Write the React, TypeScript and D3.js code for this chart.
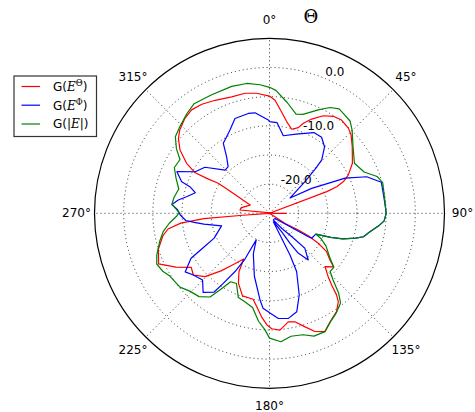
import React from 'react';
import * as d3 from 'd3';

// antenna gain in dB, theta in degrees (0 = up, clockwise)
const thetaRed = [0, 2.8, 6.8, 10.6, 14.8, 18.6, 20.6, 24.1, 28.9, 33.3, 37.7, 42.8, 46.1, 51.2, 58.9, 64.1, 66.8, 68.4, 69.3, 80, 90, 100, 122.8, 120.1, 120.0, 121.6, 123.9, 127.7, 129.9, 133.9, 137.2, 139.1, 140.6, 142.1, 145.7, 150.8, 154.9, 159.0, 162.6, 166.8, 170.2, 174.9, 178.9, 181.4, 184.4, 187.2, 190.8, 198.1, 204.0, 207.6, 209.5, 215.6, 220.1, 225.5, 231.0, 235.4, 240.1, 245.5, 252.2, 258.0, 261.2, 263.7, 265.3, 265.8, 268, 276.4, 281.4, 293.1, 299.5, 300.4, 299.1, 298.6, 301.1, 305.3, 309.4, 312.9, 318.3, 323.0, 328.2, 334.3, 342.0, 348.5, 353.8, 360];
const gainRed = [-4.9, -5.6, -7.5, -9.0, -10.1, -9.5, -8.5, -7.3, -5.9, -5.1, -4.8, -5.1, -5.6, -6.8, -8.4, -10.0, -11.2, -12.6, -14.5, -25.0, -22.1, -25.0, -21.8, -19.3, -17.3, -15.2, -13.2, -11.9, -10.7, -11.8, -10.2, -8.7, -6.9, -5.8, -4.6, -3.7, -2.6, -3.3, -4.6, -5.9, -6.1, -4.9, -5.2, -5.9, -7.2, -8.6, -10.0, -10.1, -11.9, -13.7, -16.0, -14.1, -12.1, -9.5, -8.2, -8.7, -6.5, -4.1, -5.0, -6.3, -7.4, -9.7, -13.7, -20.4, -25.6, -19.9, -20.1, -21.4, -16.9, -14.8, -12.7, -10.5, -8.4, -6.2, -4.8, -4.0, -3.2, -2.8, -3.0, -3.5, -4.0, -4.0, -4.3, -4.9];

const thetaBlue = [0, 4.7, 10.1, 18.5, 28.8, 34.4, 39.6, 44.4, 45.8, 48.3, 53.3, 59.4, 65.1, 69.4, 74.5, 81.7, 86.7, 90, 93.8, 96.7, 100.4, 104.0, 106.1, 109.3, 111.5, 114.2, 120.6, 121.1, 132.3, 150.4, 140.9, 136.5, 134.6, 140.3, 144.2, 145.7, 146.5, 151.2, 155.7, 154.0, 153.8, 155.0, 160.0, 164.5, 169.8, 175.2, 179.7, 183.9, 186.3, 193.5, 201.7, 206.5, 208.2, 210.6, 213.4, 215.1, 220.0, 225.1, 231.0, 235.2, 236.9, 240.2, 242.4, 245.8, 255.3, 260.7, 263.1, 265.1, 268.9, 272.4, 275.1, 278.3, 281.3, 285.5, 288.5, 289.8, 294.2, 299.2, 305.5, 314.2, 318.5, 322.9, 326.6, 328.7, 334.6, 340.0, 348.0, 351.8, 359.3, 360];
const gainBlue = [-9.3, -9.4, -11.5, -10.7, -9.2, -9.2, -10.2, -12.2, -13.9, -16.9, -20.6, -16.6, -10.7, -7.2, -5.1, -5.2, -5.1, -5.0, -5.3, -6.2, -7.5, -8.4, -9.6, -11.7, -13.7, -16.3, -16.6, -17.2, -23.7, -23.7, -21.7, -19.5, -16.5, -14.6, -16.6, -18.8, -21.2, -23.0, -23.4, -20.2, -17.0, -14.0, -10.1, -7.5, -6.7, -6.9, -7.9, -8.7, -10.1, -13.9, -17.5, -19.9, -16.1, -13.4, -10.6, -8.5, -7.3, -8.8, -8.2, -7.4, -8.2, -9.5, -12.0, -14.6, -16.5, -13.6, -12.0, -10.6, -9.7, -9.2, -8.2, -9.2, -10.5, -11.8, -10.6, -9.0, -7.6, -10.4, -11.4, -14.4, -14.3, -12.8, -10.6, -10.3, -9.2, -7.7, -7.5, -7.6, -9.0, -9.3];

const thetaGreen = [0, 3.0, 9.2, 15.0, 18.7, 25.2, 29.8, 33.7, 36.4, 41.1, 44.8, 51.5, 59.5, 66.4, 71.1, 75.0, 81.8, 86.7, 90, 93.8, 96.7, 100.4, 104.0, 106.1, 109.3, 111.5, 114.2, 116.1, 120.1, 126.5, 130.0, 133.8, 136.4, 139.1, 141.6, 146.4, 150.5, 154.9, 160.1, 164.6, 170.1, 174.9, 180.0, 182.2, 185.8, 190.2, 196.1, 200.3, 205.2, 209.6, 212.8, 215.4, 220.2, 225.7, 230.5, 237.8, 241.3, 245.8, 249.7, 255.8, 260.2, 264.2, 268.3, 270.5, 275.4, 279.4, 285.0, 290.5, 295.7, 301.0, 304.7, 309.1, 314.3, 320.4, 325.4, 334.0, 343.4, 350.0, 355.8, 360];
const gainGreen = [-3.4, -3.9, -5.8, -7.4, -7.1, -5.4, -4.1, -3.5, -3.7, -4.0, -4.9, -6.7, -8.1, -7.3, -5.5, -4.9, -5.1, -5.1, -5.0, -5.3, -6.2, -7.5, -8.4, -9.6, -11.7, -13.7, -16.3, -15.2, -13.8, -12.1, -10.6, -10.6, -9.2, -6.9, -5.4, -4.4, -3.7, -2.6, -2.6, -3.4, -3.6, -2.9, -3.6, -5.0, -6.4, -8.6, -9.3, -9.6, -11.7, -11.5, -9.4, -7.4, -6.3, -5.9, -5.1, -4.8, -4.2, -3.8, -4.4, -5.6, -6.5, -7.7, -9.1, -9.5, -8.2, -8.4, -8.9, -7.9, -6.9, -7.1, -5.6, -4.2, -3.6, -2.8, -2.2, -2.4, -2.3, -2.4, -2.9, -3.4];

const thetaTicks = [0, 45, 90, 135, 180, 225, 270, 315];
const rGrid = [-20, -15, -10, -5, 0];
const rLabels = [0, -10, -20];

const series = [
  { name: 'theta', color: '#ff0000', theta: thetaRed, gain: gainRed },
  { name: 'phi', color: '#0000ff', theta: thetaBlue, gain: gainBlue },
  { name: 'abs', color: '#008000', theta: thetaGreen, gain: gainGreen },
];

const sans = 'DejaVu Sans, sans-serif';
const serif = 'DejaVu Serif, serif';

export default function App() {
  const width = 475;
  const height = 412;
  const cx = 269.5;
  const cy = 213.3;
  const R = 175;

  const r = d3.scaleLinear().domain([-25, 5]).range([0, R]);
  const rad = (deg: number) => (deg * Math.PI) / 180;

  const line = d3
    .lineRadial<[number, number]>()
    .angle((d) => rad(d[0]))
    .radius((d) => r(d[1]));

  const sup = (ch: string) => (
    <>
      <tspan fontFamily={serif} fontStyle="italic">E</tspan>
      <tspan fontFamily={serif} fontSize={8.5} dy={-5}>{ch}</tspan>
      <tspan dy={5}>)</tspan>
    </>
  );

  const legendY = [86.5, 105.2, 124];

  return (
    <div style={{ position: 'absolute', left: 0, top: 0 }}>
      <svg width={width} height={height} style={{ display: 'block', background: '#fff' }}>
        <g transform={`translate(${cx},${cy})`}>
          {rGrid.map((v) => (
            <circle key={v} r={r(v)} fill="none" stroke="#000" strokeWidth={0.8} strokeDasharray="1,3" />
          ))}
          {thetaTicks.map((t) => (
            <line
              key={t}
              x1={0}
              y1={0}
              x2={R * Math.sin(rad(t))}
              y2={-R * Math.cos(rad(t))}
              stroke="#000"
              strokeWidth={0.8}
              strokeDasharray="1,3"
            />
          ))}

          {series.map((s) => (
            <path
              key={s.name}
              d={line(s.theta.map((t, i) => [t, s.gain[i]] as [number, number])) || ''}
              fill="none"
              stroke={s.color}
              strokeWidth={1.2}
              strokeLinejoin="round"
            />
          ))}

          <circle r={R} fill="none" stroke="#000" strokeWidth={1.2} />

          {thetaTicks.map((t) => (
            <text
              key={t}
              x={193 * Math.sin(rad(t))}
              y={-193 * Math.cos(rad(t))}
              textAnchor="middle"
              dominantBaseline="central"
              fontFamily={sans}
              fontSize={12}
            >
              {t}°
            </text>
          ))}

          {rLabels.map((v) => (
            <text
              key={v}
              x={r(v) * Math.sin(rad(22.5))}
              y={-r(v) * Math.cos(rad(22.5)) - 2.7}
              fontFamily={sans}
              fontSize={12}
            >
              {v.toFixed(1)}
            </text>
          ))}
        </g>

        <text x={311} y={16} textAnchor="middle" dominantBaseline="central" fontFamily={serif} fontSize={18}>
          Θ
        </text>

        <g>
          <rect x={14} y={76} width={82.5} height={60.5} fill="#fff" stroke="#333" strokeWidth={1.2} />
          {series.map((s, i) => (
            <line key={s.name} x1={21.5} x2={40} y1={legendY[i]} y2={legendY[i]} stroke={s.color} strokeWidth={1.2} />
          ))}
          <text x={53} y={legendY[0] + 4.3} fontFamily={sans} fontSize={12}>
            G({sup('Θ')}
          </text>
          <text x={53} y={legendY[1] + 4.3} fontFamily={sans} fontSize={12}>
            G({sup('Φ')}
          </text>
          <text x={53} y={legendY[2] + 4.3} fontFamily={sans} fontSize={12}>
            G(|<tspan fontFamily={serif} fontStyle="italic">E</tspan>|)
          </text>
        </g>
      </svg>
    </div>
  );
}
